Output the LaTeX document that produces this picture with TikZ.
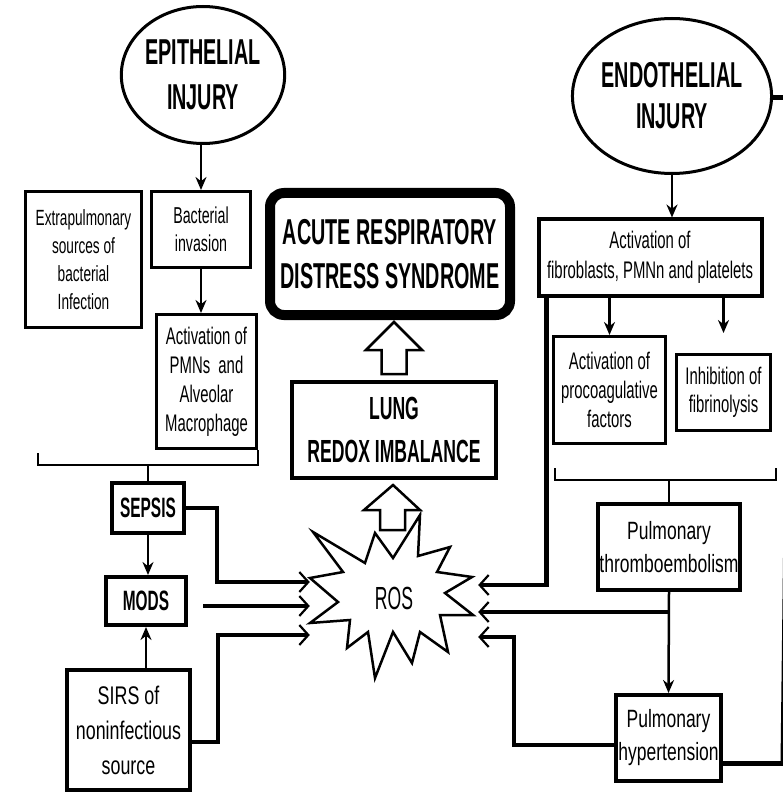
\documentclass[tikz,border=0pt]{standalone}
\usepackage{fontspec}
\setmainfont{Liberation Sans}[FakeStretch=0.62]
\newfontfamily\titlef{Liberation Sans}[FakeStretch=0.55]
\newfontfamily\widef{Liberation Sans}[FakeStretch=0.7]
\usetikzlibrary{arrows.meta,calc,shapes.geometric}
\begin{document}
\begin{tikzpicture}[x=1pt,y=-1pt,
  box/.style={draw, line width=3pt, align=center, inner sep=0pt},
  oval/.style={draw, ellipse, line width=3pt, align=center, inner sep=0pt},
  arr/.style={-{Stealth[length=13pt,width=11pt]}, line width=2.5pt},
  rarr/.style={-{Straight Barb[length=9pt,width=20pt,line width=2.2pt]}, line width=4.5pt},
  bline/.style={line width=2.5pt},
  heavy/.style={line width=5pt},
  hollow/.style={draw, line width=2.5pt, fill=white, line join=miter},
  star/.style={draw, line width=2.5pt, line join=miter}
]
\useasboundingbox (0,0) rectangle (782,794);

% ---- nodes ----
\node[oval, minimum width=157pt, minimum height=137pt, font=\titlef\bfseries\fontsize{36}{45}\selectfont] (epi) at (203,75) {EPITHELIAL\\INJURY};
\node[oval, minimum width=182pt, minimum height=155pt, font=\titlef\bfseries\fontsize{36}{41}\selectfont] (endo) at (672,96) {ENDOTHELIAL\\INJURY};
\node[box, minimum width=116pt, minimum height=136pt, font=\fontsize{22}{28}\selectfont] (extra) at (83.5,259.5) {Extrapulmonary\\sources of\\bacterial\\Infection};
\node[box, minimum width=99pt, minimum height=76pt, font=\fontsize{23}{28}\selectfont] (bact) at (201,229.5) {Bacterial\\invasion};
\node[box, minimum width=100pt, minimum height=134pt, font=\fontsize{24}{29}\selectfont] (pmn) at (206.5,381.5) {Activation of\\PMNs~ and\\Alveolar\\Macrophage};
\node[draw, line width=10pt, rounded corners=14pt, minimum width=240pt, minimum height=122pt, align=center, inner sep=0pt, font=\titlef\bfseries\fontsize{36}{44}\selectfont] (ards) at (390,254) {ACUTE RESPIRATORY\\DISTRESS SYNDROME};
\node[box, line width=4pt, minimum width=204pt, minimum height=96pt, font=\titlef\bfseries\fontsize{32}{43}\selectfont] (lung) at (394,430) {LUNG\\REDOX IMBALANCE};
\node[box, line width=4pt, minimum width=72pt, minimum height=50pt, font=\titlef\bfseries\fontsize{28}{30}\selectfont] (sepsis) at (148,508) {SEPSIS};
\node[box, line width=4pt, minimum width=80pt, minimum height=48pt, font=\titlef\bfseries\fontsize{28}{30}\selectfont] (mods) at (146,601) {MODS};
\node[box, line width=4pt, minimum width=123pt, minimum height=120pt, font=\widef\fontsize{25.5}{35}\selectfont] (sirs) at (128.5,730) {SIRS of\\noninfectious\\source};
\node[box, line width=4pt, minimum width=223pt, minimum height=76pt, font=\fontsize{24}{30}\selectfont] (fib) at (650,257.5) {Activation of\\fibroblasts, PMNn and platelets};
\node[box, minimum width=112pt, minimum height=107pt, font=\fontsize{24}{29}\selectfont] (proco) at (609.5,390) {Activation of\\procoagulative\\factors};
\node[box, minimum width=94pt, minimum height=76pt, font=\fontsize{24}{28}\selectfont] (inhib) at (723.5,392.5) {Inhibition of\\fibrinolysis};
\node[box, line width=4pt, minimum width=142pt, minimum height=86pt, font=\widef\fontsize{25}{33}\selectfont] (thrombo) at (669,547) {Pulmonary\\thromboembolism};
\node[box, line width=4pt, minimum width=105pt, minimum height=86pt, font=\widef\fontsize{25}{33}\selectfont] (hyper) at (668.5,738) {Pulmonary\\hypertension};
\node[minimum width=168pt, minimum height=60pt, inner sep=0pt, font=\titlef\fontsize{32}{34}\selectfont] (ros) at (394,598) {ROS};

% ---- hollow block arrows ----
\begin{scope}[shift={(lung.north)}]
  \draw[hollow] (-12.5,-6) -- (-12.5,-30) -- (-28,-30) -- (0,-58) -- (28,-30) -- (12.5,-30) -- (12.5,-6) -- cycle;
\end{scope}
\begin{scope}[shift={(lung.south)}]
  \draw[hollow] (-14,50) -- (-14,30) -- (-30,30) -- (-1,5) -- (26,30) -- (11,30) -- (11,50) -- cycle;
\end{scope}

% ---- ROS starburst ----
\draw[star] (313,532) -- (365,563) -- (375,533) -- (393,558) -- (420,515) -- (418,556) -- (450,547) -- (437,572) -- (472,577) -- (445,593) -- (473,615) -- (440,615) -- (448,652) -- (420,632) -- (412,663) -- (393,632) -- (375,678) -- (368,632) -- (347,648) -- (350,620) -- (310,623) -- (338,602) -- (310,578) -- (343,572) -- cycle;

% ---- small arrows ----
\draw[arr] (bact.north |- epi.south) -- (bact.north);
\draw[arr] (bact.south) -- (bact.south |- pmn.north);
\draw[arr] (sepsis.south) -- (sepsis.south |- mods.north);
\draw[arr] (mods.south |- sirs.north) -- (mods.south);
\draw[arr] (endo.south) -- (endo.south |- fib.north);
\draw[arr] (proco.north |- fib.south) -- (proco.north);
\draw[arr, shorten >=20pt] (inhib.north |- fib.south) -- (inhib.north);
\draw[arr] (thrombo.south) -- (hyper.north);

% ---- brackets ----
\coordinate (lb1) at (38,453);
\coordinate (lb2) at (38,465);
\coordinate (lb3) at (258,465);
\draw[bline] (lb1) -- (lb2) -- (lb3) -- (pmn.south east);
\draw[line width=1.5pt] (sepsis.north |- lb2) -- (sepsis.north);
\coordinate (rb1) at (555,468);
\coordinate (rb2) at (555,480);
\coordinate (rb3) at (776,480);
\coordinate (rb4) at (776,468);
\draw[bline] (rb1) -- (rb2) -- (rb3) -- (rb4);
\draw[line width=1.5pt] (thrombo.north |- rb2) -- (thrombo.north);

% ---- connectors into ROS ----
\draw[rarr] (sepsis.east) -- ++(31,0) |- ($(ros.west)+(0,-16)$);
\draw[rarr, line width=4pt] ($(mods.east)+(15,5)$) -- ($(ros.west)+(0,8)$);
\draw[rarr] ($(sirs.east)+(0,12)$) -- ++(26,0) |- ($(ros.west)+(0,37)$);
\draw[rarr] ($(fib.south west)+(10,0)$) |- ($(ros.east)+(0,-13)$);
\draw[rarr, line width=4pt] ($(thrombo.south |- ros.east)+(0,14)$) -- ($(ros.east)+(0,14)$);
\draw[rarr] ($(hyper.west)+(0,7)$) -- ++(-100,0) |- ($(ros.east)+(0,39)$);

% ---- endothelial loop at right edge ----
\coordinate (edgeT) at ($(endo.east)+(19,2)$);
\coordinate (edgeB) at ($(hyper.east)+(61,25)$);
\draw[heavy] ($(endo.east)+(0,2)$) -- (edgeT);
\draw[line width=3pt] ($(edgeT)+(-2,0)$) -- ($(edgeB)+(-2,0)$);
\draw[heavy] ($(hyper.east)+(0,25)$) -- (edgeB);
\end{tikzpicture}
\end{document}
